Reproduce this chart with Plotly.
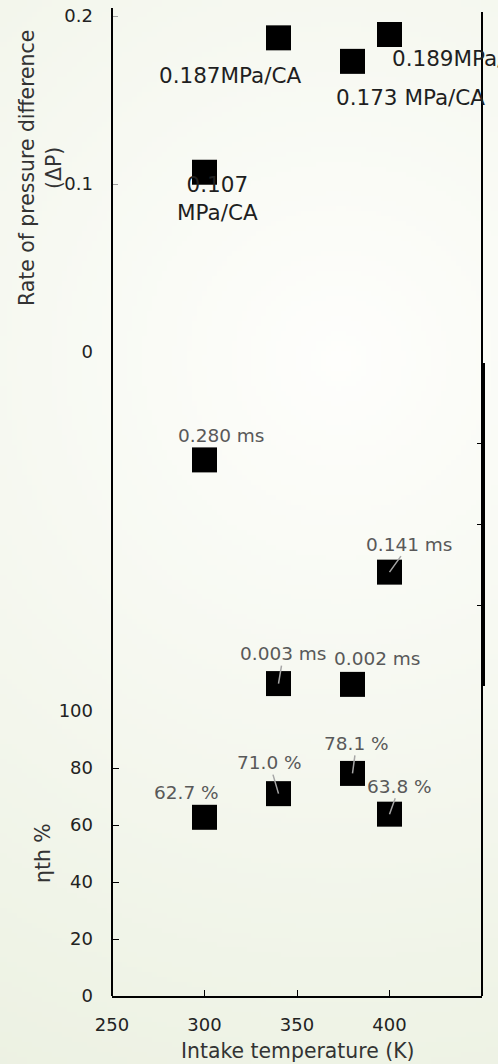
import base64
import struct
import zlib
import plotly.graph_objects as go

# ---- data ----
temps = [300, 340, 380, 400]
dp_rate = [0.107, 0.187, 0.173, 0.189]          # MPa/CA
dp_labels = ["0.107<br>MPa/CA", "0.187MPa/CA", "0.173 MPa/CA", "0.189MPa/CA"]
delay = [0.280, 0.003, 0.002, 0.141]            # ms
delay_labels = ["0.280 ms", "0.003 ms", "0.002 ms", "0.141 ms"]
eff = [62.7, 71.0, 78.1, 63.8]                  # %
eff_labels = ["62.7 %", "71.0 %", "78.1 %", "63.8 %"]
x_ticks = [250, 300, 350, 400, 450]
eff_ticks = [0, 20, 40, 60, 80, 100]
dp_ticks = [0, 0.1, 0.2]

FONT = "DejaVu Sans"
W, H = 498, 1064
L, R, T, B = 112, 16, 8, 68
PH = H - T - B


def py(px):
    return (H - B - px) / PH


# ---- soft radial background (decoration only) ----
def gradient_png(w, h, cx, cy, rad, c0, c1):
    rows = bytearray()
    for j in range(h):
        rows.append(0)
        for i in range(w):
            d = (((i + 0.5) / w * W - cx) ** 2 + ((j + 0.5) / h * H - cy) ** 2) ** 0.5
            t = min(d / rad, 1.0)
            for k in range(3):
                rows.append(int(round(c0[k] + (c1[k] - c0[k]) * t)))

    def chunk(tag, data):
        c = struct.pack(">I", len(data)) + tag + data
        return c + struct.pack(">I", zlib.crc32(tag + data) & 0xFFFFFFFF)

    png = b"\x89PNG\r\n\x1a\n"
    png += chunk(b"IHDR", struct.pack(">IIBBBBB", w, h, 8, 2, 0, 0, 0))
    png += chunk(b"IDAT", zlib.compress(bytes(rows), 9))
    png += chunk(b"IEND", b"")
    return "data:image/png;base64," + base64.b64encode(png).decode()


bg = gradient_png(100, 214, 340, 360, 800, (254, 254, 252), (236, 241, 226))

fig = go.Figure()
mk = dict(symbol="square", size=25, color="black")
for yv, xa, ya in [(eff, "x", "y"), (delay, "x2", "y2"), (dp_rate, "x3", "y3")]:
    fig.add_trace(go.Scatter(x=temps, y=yv, mode="markers", marker=mk, xaxis=xa, yaxis=ya,
                             showlegend=False, cliponaxis=False))

ann = []
top_shift = [(13, -26), (-48, -38), (58, -36), (74, -24)]
for xv, yv, t, (dx, dy) in zip(temps, dp_rate, dp_labels, top_shift):
    ann.append(dict(x=xv, y=yv, xref="x3", yref="y3", text=t, showarrow=False,
                    xshift=dx, yshift=dy, font=dict(family=FONT, size=21.5, color="#1f1f1f")))


def add_labels(xs, ys, texts, cfg, xr, yr):
    for xv, yv, t, (dx, dy, arr) in zip(xs, ys, texts, cfg):
        f = dict(family=FONT, size=18.5, color="#595959")
        if arr:
            ann.append(dict(x=xv, y=yv, xref=xr, yref=yr, text=t, showarrow=True, ax=dx, ay=dy,
                            arrowhead=0, arrowwidth=1.5, arrowcolor="#a6a6a6", standoff=0, font=f))
        else:
            ann.append(dict(x=xv, y=yv, xref=xr, yref=yr, text=t, showarrow=False,
                            xshift=dx, yshift=-dy, font=f))


add_labels(temps, delay, delay_labels,
           [(17, -24, False), (5, -30, True), (25, -26, False), (20, -28, True)], "x2", "y2")
add_labels(temps, eff, eff_labels,
           [(-18, -25, False), (-9, -31, True), (4, -30, True), (10, -28, True)], "x", "y")

title_font = dict(family=FONT, size=20.4, color="#333333")
ann.append(dict(x=(41 - L) / (W - L - R), y=py(168), xref="paper", yref="paper",
                text="Rate of pressure difference<br>(ΔP)", textangle=-90, showarrow=False,
                xanchor="center", yanchor="middle", font=title_font))
ann.append(dict(x=(43 - L) / (W - L - R), y=py(853), xref="paper", yref="paper",
                text="ηth %", textangle=-90, showarrow=False,
                xanchor="center", yanchor="middle", font=title_font))
ann.append(dict(x=0.5, y=py(1051), xref="paper", yref="paper",
                text="Intake temperature (K)", showarrow=False,
                xanchor="center", yanchor="middle", font=title_font))

shapes = [
    dict(type="line", xref="paper", yref="paper", x0=0, x1=0, y0=0, y1=1,
         line=dict(color="black", width=2)),
    dict(type="line", xref="paper", yref="paper", x0=1, x1=1, y0=0, y1=py(12),
         line=dict(color="black", width=2)),
]

images = [dict(source=bg, xref="paper", yref="paper",
               x=-L / (W - L - R), y=1 + T / PH,
               sizex=W / (W - L - R), sizey=H / PH,
               xanchor="left", yanchor="top", sizing="stretch", layer="below")]

tickfont = dict(family=FONT, size=18, color="#222222")
fig.update_layout(
    width=W, height=H,
    margin=dict(l=L, r=R, t=T, b=B, autoexpand=False),
    paper_bgcolor="#f7f8f1", plot_bgcolor="rgba(0,0,0,0)",
    showlegend=False,
    images=images,
    xaxis=dict(domain=[0, 1], range=[250, 450], tickvals=x_ticks, ticks="inside", ticklen=6,
               tickcolor="black", showline=True, linecolor="black", linewidth=1.5,
               showgrid=False, zeroline=False, tickfont=tickfont, ticklabelstandoff=12,
               anchor="y", automargin=False),
    yaxis=dict(domain=[0, py(711)], range=[0, 100], tickvals=eff_ticks, ticks="inside", ticklen=7,
               tickcolor="black", showline=False, showgrid=False, zeroline=False,
               tickfont=tickfont, ticklabelstandoff=18, anchor="x", automargin=False),
    xaxis2=dict(domain=[0, 1], range=[250, 450], visible=False, anchor="y2", automargin=False),
    yaxis2=dict(domain=[py(686), py(363)], range=[0, 0.4], dtick=0.1, side="right",
                ticks="inside", ticklen=5, tickcolor="black", showticklabels=False,
                showline=True, linecolor="black", linewidth=2.5, showgrid=False,
                zeroline=False, anchor="x2", automargin=False),
    xaxis3=dict(domain=[0, 1], range=[250, 450], visible=False, anchor="y3", automargin=False),
    yaxis3=dict(domain=[py(352), 1], range=[0, (352 - 8) / 1680], tickvals=dp_ticks,
                ticktext=["0", "0.1", "0.2"], ticks="inside", ticklen=6, tickcolor="#a0a0a0",
                showline=False, showgrid=False, zeroline=False,
                tickfont=tickfont, ticklabelstandoff=18, anchor="x3", automargin=False),
    annotations=ann,
    shapes=shapes,
)

fig.write_html("out.html")
